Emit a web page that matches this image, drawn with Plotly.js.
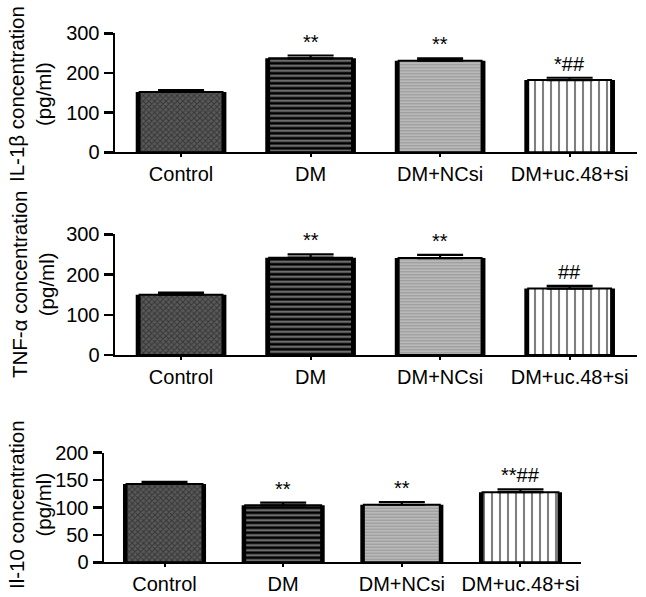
<!DOCTYPE html>
<html><head><meta charset="utf-8">
<script src="https://cdn.plot.ly/plotly-3.0.1.min.js"></script>
<style>html,body{margin:0;padding:0;background:#fff}#chart{width:646px;height:597px}</style>
</head><body><div id="chart"></div>
<script>
const categories = ['Control', 'DM', 'DM+NCsi', 'DM+uc.48+si'];
const il1b = [152, 237, 231, 182];
const il1bErr = [5, 7, 6, 6];
const il1bMarks = ['', '**', '**', '*##'];
const tnfa = [150, 242, 241, 165];
const tnfaErr = [5, 8, 8, 7];
const tnfaMarks = ['', '**', '**', '##'];
const il10 = [143, 104, 105, 128];
const il10Err = [4, 5, 5, 5];
const il10Marks = ['', '**', '**', '**##'];
const yTitles = ['IL-1β concentration<br>(pg/ml)', 'TNF-α concentration<br>(pg/ml)', 'Il-10 concentration<br>(pg/ml)'];
const yTicks = [[0, 100, 200, 300], [0, 100, 200, 300], [0, 50, 100, 150, 200]];

const FONT = 'Liberation Sans, Arial, Helvetica, sans-serif';
const W = 646, H = 597;
const px = (a, b) => [a / W, b / W];
const py = (top, bottom) => [1 - bottom / H, 1 - top / H];

// one fill style per group
const styles = [
  {bg: '#5a5a5a', shape: 'x', fg: '#111111', size: 4, solidity: 0.45},
  {bg: '#000000', shape: '-', fg: '#ffffff', size: 5, solidity: 0.4},
  {bg: '#c4c4c4', shape: '-', fg: '#6a6a6a', size: 3, solidity: 0.5},
  {bg: '#ffffff', shape: '|', fg: '#000000', size: 8, solidity: 0.26}
];

const panels = [
  {vals: il1b, err: il1bErr, marks: il1bMarks, xa: 'x', ya: 'y'},
  {vals: tnfa, err: tnfaErr, marks: tnfaMarks, xa: 'x2', ya: 'y2'},
  {vals: il10, err: il10Err, marks: il10Marks, xa: 'x3', ya: 'y3'}
];

const traces = [];
const annotations = [];
panels.forEach((p) => {
  traces.push({
    type: 'bar', x: categories, y: p.vals, xaxis: p.xa, yaxis: p.ya,
    width: 0.70, marker: {color: '#000', line: {width: 0}}, hoverinfo: 'skip', showlegend: false
  });
  categories.forEach((c, k) => {
    const s = styles[k];
    traces.push({
      type: 'bar', x: [c], y: [p.vals[k]], xaxis: p.xa, yaxis: p.ya,
      width: 0.64, showlegend: false,
      marker: {color: s.bg, line: {color: '#000', width: 2},
        pattern: {shape: s.shape, fgcolor: s.fg, size: s.size, solidity: s.solidity, fillmode: 'overlay'}},
      error_y: {type: 'data', symmetric: false, array: [p.err[k]], arrayminus: [0],
        width: 23, thickness: 2.2, color: '#000'}
    });
  });
  p.marks.forEach((m, k) => {
    if (!m) return;
    annotations.push({
      xref: p.xa, yref: p.ya, x: categories[k], y: p.vals[k] + p.err[k],
      text: m, showarrow: false, yanchor: 'bottom', yshift: 1,
      font: {family: FONT, size: 20, color: '#000'}
    });
  });
});

const titleCenters = [{x: 30, y: 94}, {x: 33, y: 285}, {x: 30, y: 505}];
yTitles.forEach((t, i) => {
  annotations.push({
    xref: 'paper', yref: 'paper', x: titleCenters[i].x / W, y: 1 - titleCenters[i].y / H,
    xanchor: 'center', yanchor: 'middle', textangle: -90, showarrow: false,
    text: t, font: {family: FONT, size: 20.5, color: '#000'}
  });
});

function xaxis(dom, range, anchor) {
  return {domain: dom, range: range, anchor: anchor, type: 'category', showline: true, linecolor: '#000', linewidth: 1.5,
    ticks: 'outside', ticklen: 3, tickwidth: 2, tickcolor: '#000', showgrid: false, zeroline: false,
    tickfont: {family: FONT, size: 20, color: '#000'}, fixedrange: true};
}
function yaxis(dom, range, tv, anchor) {
  return {domain: dom, range: range, anchor: anchor, showline: true, linecolor: '#000', linewidth: 2.5,
    ticks: 'outside', ticklen: 9, tickwidth: 2.5, tickcolor: '#000', tickvals: tv, showgrid: false, zeroline: false,
    tickfont: {family: FONT, size: 20, color: '#000'}, fixedrange: true};
}

const layout = {
  width: W, height: H, margin: {l: 0, r: 0, t: 0, b: 0},
  paper_bgcolor: '#fff', plot_bgcolor: '#fff', barmode: 'overlay', showlegend: false,
  xaxis: xaxis(px(115, 637), [-0.51, 3.52], 'y'),
  yaxis: yaxis(py(33.3, 152.3), [0, 300], yTicks[0], 'x'),
  xaxis2: xaxis(px(115, 637), [-0.51, 3.52], 'y2'),
  yaxis2: yaxis(py(234.3, 355), [0, 300], yTicks[1], 'x2'),
  xaxis3: xaxis(px(104, 581), [-0.51, 3.51], 'y3'),
  yaxis3: yaxis(py(452.7, 562.3), [0, 200], yTicks[2], 'x3'),
  annotations: annotations
};

Plotly.newPlot('chart', traces, layout, {displayModeBar: false, staticPlot: true});
</script></body></html>
